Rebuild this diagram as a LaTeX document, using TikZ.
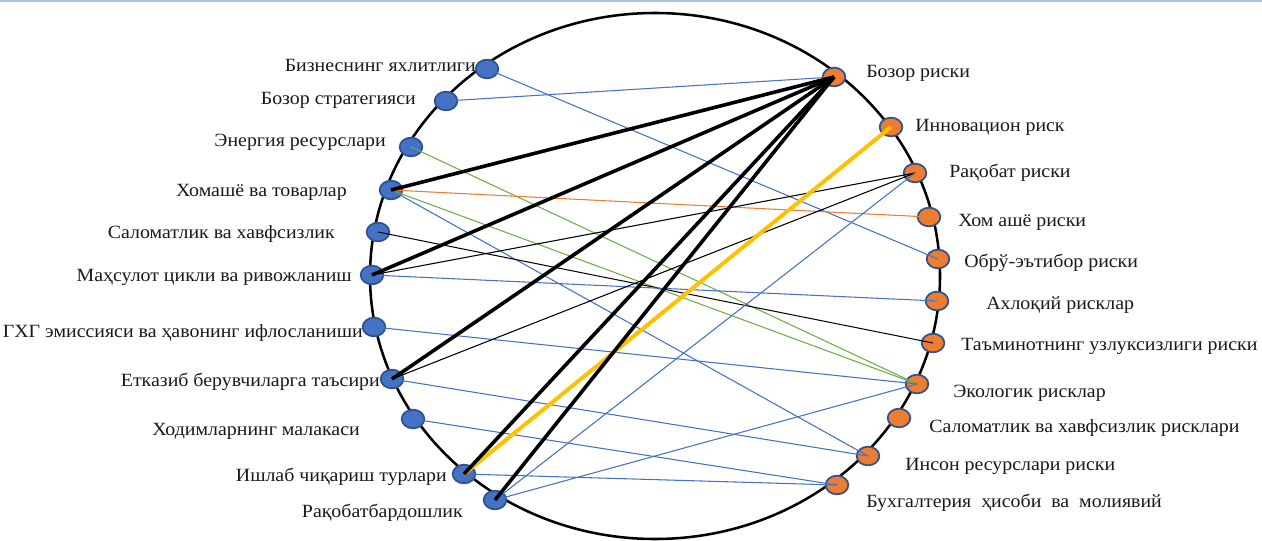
\documentclass[tikz,border=0pt]{standalone}
\usepackage{fontspec}
\setmainfont{Liberation Serif}[FakeStretch=1.065]
\usetikzlibrary{shapes.geometric}
\definecolor{nblue}{HTML}{4472C4}
\definecolor{nborder}{HTML}{2F528F}
\definecolor{norange}{HTML}{ED7D31}
\definecolor{lgreen}{HTML}{70AD47}
\definecolor{lyellow}{HTML}{FFC000}
\definecolor{topline}{HTML}{A9C2E6}
\begin{document}
\begin{tikzpicture}[x=0.75pt,y=-0.75pt,
  dot/.style={ellipse,draw=nborder,line width=1.3pt,minimum width=17pt,minimum height=14pt,inner sep=0pt},
  bdot/.style={dot,fill=nblue},
  odot/.style={dot,fill=norange},
  lab/.style={inner sep=0pt,font=\fontsize{14}{16}\selectfont,text=black!90},
  lleft/.style={lab,anchor=east},
  lright/.style={lab,anchor=west},
  thinb/.style={nblue,line width=0.8pt},
  thing/.style={lgreen,line width=0.8pt},
  thino/.style={norange,line width=0.8pt},
  think/.style={black,line width=0.8pt},
  thickk/.style={black,line width=2.7pt},
  thicky/.style={lyellow,line width=3pt}
]
\useasboundingbox (0,0) rectangle (1262,541);
\draw[topline,line width=1.5pt] (0,1) -- (1262,1);
\draw[black,line width=1.9pt] (655,276) ellipse [x radius=285, y radius=263];
% left nodes
\node[bdot] (L1) at (487,69) {};
\node[bdot] (L2) at (446,101) {};
\node[bdot] (L3) at (411,147) {};
\node[bdot] (L4) at (391,190) {};
\node[bdot] (L5) at (378,232) {};
\node[bdot] (L6) at (372,275) {};
\node[bdot] (L7) at (374,327) {};
\node[bdot] (L8) at (392,379) {};
\node[bdot] (L9) at (413,419) {};
\node[bdot] (L10) at (464,474) {};
\node[bdot] (L11) at (495,500) {};
% right nodes
\node[odot] (R1) at (834,77) {};
\node[odot] (R2) at (891,127) {};
\node[odot] (R3) at (915,173) {};
\node[odot] (R4) at (929,217) {};
\node[odot] (R5) at (938,259) {};
\node[odot] (R6) at (937,301) {};
\node[odot] (R7) at (933,343) {};
\node[odot] (R8) at (917,384) {};
\node[odot] (R9) at (899,418) {};
\node[odot] (R10) at (868,456) {};
\node[odot] (R11) at (837,485) {};
% labels left
\node[lleft] (t1) at (476,65) {Бизнеснинг яхлитлиги};
\node[lleft] (t2) at (416,100) {Бозор стратегияси};
\node[lleft] (t3) at (386,142) {Энергия ресурслари};
\node[lleft] (t4) at (347,192) {Хомашё ва товарлар};
\node[lleft] (t5) at (335,234) {Саломатлик ва хавфсизлик};
\node[lleft] (t6) at (352,277) {Маҳсулот цикли ва ривожланиш};
\node[lleft] (t7) at (363,333) {ГХГ эмиссияси ва ҳавонинг ифлосланиши};
\node[lleft] (t8) at (380,382) {Етказиб берувчиларга таъсири};
\node[lleft] (t9) at (360,431) {Ходимларнинг малакаси};
\node[lleft] (t10) at (447,477) {Ишлаб чиқариш турлари};
\node[lleft] (t11) at (463,513) {Рақобатбардошлик};
% labels right
\node[lright] (s1) at (866,73) {Бозор риски};
\node[lright] (s2) at (915,127) {Инновацион риск};
\node[lright] (s3) at (949,173) {Рақобат риски};
\node[lright] (s4) at (958,222) {Хом ашё риски};
\node[lright] (s5) at (964,263) {Обрў-эътибор риски};
\node[lright] (s6) at (986,305) {Ахлоқий рисклар};
\node[lright] (s7) at (961,346) {Таъминотнинг узлуксизлиги риски};
\node[lright] (s8) at (953,393) {Экологик рисклар};
\node[lright] (s9) at (929,428) {Саломатлик ва хавфсизлик рисклари};
\node[lright] (s10) at (905,466) {Инсон ресурслари риски};
\node[lright] (s11) at (866,503) {Бухгалтерия\ \ ҳисоби\ \ ва\ \ молиявий};
% thin connectors
\draw[thinb] (L2.center) -- (R1.center);
\draw[thinb] (L1.center) -- (R5.center);
\draw[thing] (L3.center) -- (R8.center);
\draw[thino] (L4.center) -- (R4.center);
\draw[thing] (L4.center) -- (R8.center);
\draw[thinb] (L4.center) -- (R10.center);
\draw[think] (L5.center) -- (R7.center);
\draw[think] (L6.center) -- (R3.center);
\draw[thinb] (L6.center) -- (R6.center);
\draw[thinb] (L7.center) -- (R8.center);
\draw[think] (L8.center) -- (R3.center);
\draw[thinb] (L8.center) -- (R10.center);
\draw[thinb] (L9.center) -- (R11.center);
\draw[thinb] (L10.center) -- (R11.center);
\draw[thinb] (L11.center) -- (R3.center);
\draw[thinb] (L11.center) -- (R8.center);
% thick connectors
\draw[thicky] (L10.center) -- (R2.center);
\draw[thickk] (L4.center) -- (R1.center);
\draw[thickk] (L6.center) -- (R1.center);
\draw[thickk] (L8.center) -- (R1.center);
\draw[thickk] (L10.center) -- (R1.center);
\draw[thickk] (L11.center) -- (R1.center);
\end{tikzpicture}
\end{document}
